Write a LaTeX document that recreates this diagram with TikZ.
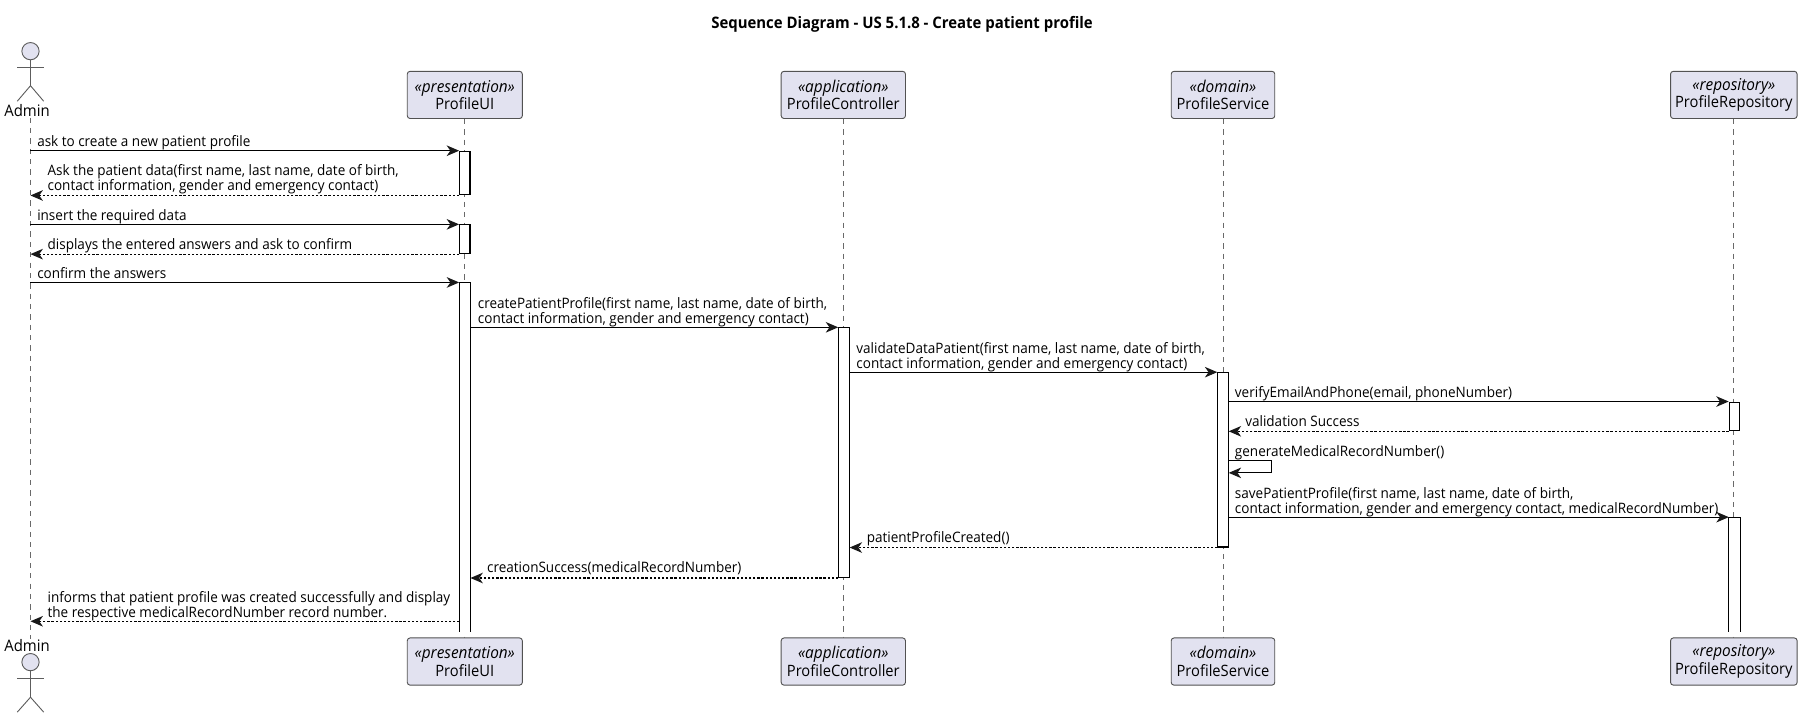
\documentclass[tikz,border=0pt]{standalone}
\usepackage{fontspec}
\setmainfont[FakeStretch=0.94]{Open Sans}
\usetikzlibrary{arrows.meta}
\definecolor{partfill}{HTML}{E2E2F0}
\definecolor{partline}{HTML}{181818}
\newcommand{\stereo}[1]{{\fontsize{7.1}{7.6}\selectfont\textit{«#1»}}}
\begin{document}
\begin{tikzpicture}[
    x=0.5pt, y=-0.5pt,
    part/.style={draw=partline!75, line width=0.4pt, fill=partfill, rounded corners=1.2pt,
                 minimum height=20.5pt, inner sep=0pt, align=center,
                 font=\fontsize{6.8}{7.6}\selectfont},
    head/.style={circle, draw=partline!70, line width=0.4pt, fill=partfill,
                 minimum size=7.5pt, inner sep=0pt},
    who/.style={font=\fontsize{6.9}{8}\selectfont, inner sep=0pt},
    limb/.style={draw=partline!70, line width=0.4pt},
    life/.style={draw=partline!65, line width=0.35pt, dash pattern=on 2.3pt off 2.2pt},
    bar/.style={draw=black, line width=0.45pt, fill=white, minimum width=4.5pt,
                inner sep=0pt, anchor=north},
    openbar/.style={fill=white, minimum width=4.5pt, inner sep=0pt, anchor=north},
    barline/.style={draw=black, line width=0.45pt},
    call/.style={draw=black, line width=0.5pt, -{Stealth[length=5.4pt,width=4.6pt,inset=1.6pt,color=partline]}},
    back/.style={call, dash pattern=on 1pt off 0.8pt},
    txt/.style={font=\fontsize{6.25}{6.5}\selectfont, inner sep=0pt, anchor=south west,
                align=left, yshift=-0.45pt, execute at end node=\strut}
  ]
  \useasboundingbox (0,0) rectangle (1568,624);
  % Title
  \node[font=\fontsize{6.9}{8}\bfseries, inner sep=0pt] (title) at (784,21.5)
    {Sequence Diagram - US 5.1.8 - Create patient profile};
  % Top row
  \node[head] (adminHead) at (26.5,44.5) {};
  \node[who] (adminName) at (23.5,96.5) {Admin};
  \node[part, minimum width=50pt] (uiTop) at (404,82.5) {\stereo{presentation}\\ProfileUI};
  \node[part, minimum width=54pt] (ctrlTop) at (733,82.5) {\stereo{application}\\ProfileController};
  \node[part, minimum width=45pt] (servTop) at (1063,82.5) {\stereo{domain}\\ProfileService};
  \node[part, minimum width=55pt] (repoTop) at (1507,82.5) {\stereo{repository}\\ProfileRepository};
  % Bottom row
  \node[who] (adminNameB) at (23.5,561) {Admin};
  \node[head] (adminHeadB) at (26.5,575.5) {};
  \node[part, minimum width=50pt] (uiBot) at (404,575) {\stereo{presentation}\\ProfileUI};
  \node[part, minimum width=54pt] (ctrlBot) at (733,575) {\stereo{application}\\ProfileController};
  \node[part, minimum width=45pt] (servBot) at (1063,575) {\stereo{domain}\\ProfileService};
  \node[part, minimum width=55pt] (repoBot) at (1507,575) {\stereo{repository}\\ProfileRepository};
  % Stick figures
  \coordinate (adminHip) at (26.5,74.5);
  \coordinate (adminArmL) at (15,58.5);
  \coordinate (adminArmR) at (38,58.5);
  \coordinate (adminLegL) at (15,88);
  \coordinate (adminLegR) at (38,88);
  \draw[limb] (adminHead.south) -- (adminHip);
  \draw[limb] (adminArmL) -- (adminArmR);
  \draw[limb] (adminLegL) -- (adminHip) -- (adminLegR);
  \coordinate (adminHipB) at (26.5,606);
  \coordinate (adminArmLB) at (15,589.5);
  \coordinate (adminArmRB) at (38,589.5);
  \coordinate (adminLegLB) at (15,619);
  \coordinate (adminLegRB) at (38,619);
  \draw[limb] (adminHeadB.south) -- (adminHipB);
  \draw[limb] (adminArmLB) -- (adminArmRB);
  \draw[limb] (adminLegLB) -- (adminHipB) -- (adminLegRB);
  % Lifelines
  \draw[life] (adminHead |- adminName.south) -- (adminHead |- adminNameB.north);
  \draw[life] (uiTop.south) -- (uiBot.north);
  \draw[life] (ctrlTop.south) -- (ctrlBot.north);
  \draw[life] (servTop.south) -- (servBot.north);
  \draw[life] (repoTop.south) -- (repoBot.north);
  % Activation bars
  \node[bar, minimum height=19pt] (uiA) at (404,131) {};
  \node[bar, minimum height=12.5pt] (uiB) at (404,195) {};
  \node[openbar, minimum height=151.5pt] (uiC) at (404,245.5) {};
  \draw[barline] (uiC.south west) |- (uiC.north east) -- (uiC.south east);
  \node[bar, minimum height=108.5pt] (ctrlA) at (733.5,284.5) {};
  \node[bar, minimum height=75.75pt] (servA) at (1063,323.5) {};
  \node[bar, minimum height=12.5pt] (repoA) at (1507.5,349) {};
  \node[openbar, minimum height=49.5pt] (repoB) at (1507.5,449.5) {};
  \draw[barline] (repoB.south west) |- (repoB.north east) -- (repoB.south east);
  % Messages
  \draw[call] (adminHead |- uiA.north west) -- (uiA.north west);
  \node[txt] (m1) at (32,131) {ask to create a new patient profile};
  \draw[back] (uiA.south west) -- (adminHead |- uiA.south west);
  \node[txt] (m2) at (41,169) {Ask the patient data(first name, last name, date of birth,\\contact information, gender and emergency contact)};
  \draw[call] (adminHead |- uiB.north west) -- (uiB.north west);
  \node[txt] (m3) at (32,195) {insert the required data};
  \draw[back] (uiB.south west) -- (adminHead |- uiB.south west);
  \node[txt] (m4) at (41,220) {displays the entered answers and ask to confirm};
  \draw[call] (adminHead |- uiC.north west) -- (uiC.north west);
  \node[txt] (m5) at (32,245.5) {confirm the answers};
  \draw[call] (uiC.east |- ctrlA.north west) -- (ctrlA.north west);
  \node[txt] (m6) at (415,284.5) {createPatientProfile(first name, last name, date of birth,\\contact information, gender and emergency contact)};
  \draw[call] (ctrlA.east |- servA.north west) -- (servA.north west);
  \node[txt] (m7) at (744,323.5) {validateDataPatient(first name, last name, date of birth,\\contact information, gender and emergency contact)};
  \draw[call] (servA.east |- repoA.north west) -- (repoA.north west);
  \node[txt] (m8) at (1073,349) {verifyEmailAndPhone(email, phoneNumber)};
  \draw[back] (repoA.south west) -- (servA.east |- repoA.south west);
  \node[txt] (m9) at (1082,374) {validation Success};
  % Self call
  \coordinate (selfTop) at (1105,400);
  \coordinate (selfEnd) at (1105,411);
  \draw[call] (servA.east |- selfTop) -- (selfTop) -- (selfEnd) -- (servA.east |- selfEnd);
  \node[txt] (m10) at (1073,400) {generateMedicalRecordNumber()};
  \draw[call] (servA.east |- repoB.north west) -- (repoB.north west);
  \node[txt] (m11) at (1073,449.5) {savePatientProfile(first name, last name, date of birth,\\contact information, gender and emergency contact, medicalRecordNumber)};
  \draw[back] (servA.south west) -- (ctrlA.east |- servA.south west);
  \node[txt] (m12) at (753,475) {patientProfileCreated()};
  \draw[back] (ctrlA.south west) -- (uiC.east |- ctrlA.south west);
  \node[txt] (m13) at (423,501) {creationSuccess(medicalRecordNumber)};
  \coordinate (lastMsg) at (399.5,540);
  \draw[back] (lastMsg) -- (adminHead |- lastMsg);
  \node[txt] (m14) at (41,540) {informs that patient profile was created successfully and display\\the respective medicalRecordNumber record number.};
\end{tikzpicture}
\end{document}
